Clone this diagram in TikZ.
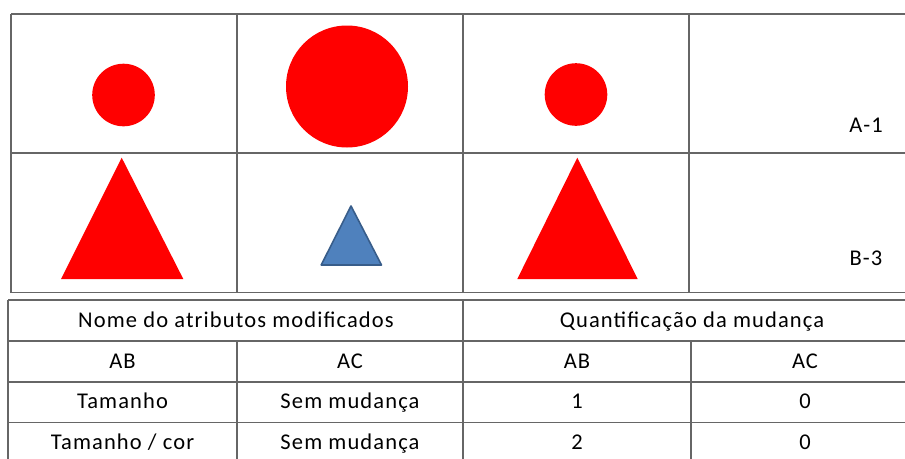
\documentclass[tikz,border=0pt]{standalone}
\usepackage{fontspec}
\setmainfont{Carlito}[LetterSpace=5]
\begin{document}
\begin{tikzpicture}[x=1pt,y=-1pt,
  grid/.style={draw=black!60, line width=1.3pt},
  redshape/.style={fill=red, draw=none},
  blueshape/.style={fill=blueFill, draw=blueEdge, line width=1.6pt, line join=round},
  lbl/.style={font=\fontsize{22.5}{25}\selectfont, anchor=base, inner sep=0pt}
]
\definecolor{blueFill}{HTML}{4F81BD}
\definecolor{blueEdge}{HTML}{385D8A}
\path[use as bounding box, clip] (0,0) rectangle (905,458);
\fill[white] (0,0) rectangle (905,458);
% top table
\draw[grid] (11,14) -- (930,14);
\draw[grid] (11,153) -- (930,153);
\draw[grid] (11,292.5) -- (930,292.5);
\draw[grid] (11,14) -- (11,292.5);
\draw[grid] (237,14) -- (237,292.5);
\draw[grid] (463,14) -- (463,292.5);
\draw[grid] (689,14) -- (689,292.5);
% shapes
\fill[redshape] (123.5,95) circle (31.3);
\fill[redshape] (347,86.5) circle (61);
\fill[redshape] (576,94.5) circle (31.3);
\fill[redshape] (121.7,157.7) -- (183.3,279) -- (61,279) -- cycle;
\fill[redshape] (577.3,157.7) -- (637.7,279) -- (517.3,279) -- cycle;
\draw[blueshape] (351,206) -- (381.5,265) -- (321.2,265) -- cycle;
\node[lbl] (a1) at (866,132.7) {A-1};
\node[lbl] (b3) at (866,265) {B-3};
% bottom table
\draw[grid] (8,300) -- (930,300);
\draw[grid] (8,341) -- (930,341);
\draw[grid] (8,382) -- (930,382);
\draw[grid] (8,422.5) -- (930,422.5);
\draw[grid] (8,463) -- (930,463);
\draw[grid] (8,300) -- (8,470);
\draw[grid] (463,300) -- (463,470);
\draw[grid] (237,341) -- (237,470);
\draw[grid] (691,341) -- (691,470);
\node[lbl] (h1) at (236,327.7) {Nome do atributos modificados};
\node[lbl] (h2) at (692,327.7) {Quantificação da mudança};
\node[lbl] (ab1) at (122.5,368.7) {AB};
\node[lbl] (ac1) at (350,368.7) {AC};
\node[lbl] (ab2) at (577,368.7) {AB};
\node[lbl] (ac2) at (805,368.7) {AC};
\node[lbl] (r1a) at (122.5,408.5) {Tamanho};
\node[lbl] (r1b) at (350,408.5) {Sem mudança};
\node[lbl] (r1c) at (577,408.5) {1};
\node[lbl] (r1d) at (805,408.5) {0};
\node[lbl] (r2a) at (122.5,449.3) {Tamanho / cor};
\node[lbl] (r2b) at (350,449.3) {Sem mudança};
\node[lbl] (r2c) at (577,449.3) {2};
\node[lbl] (r2d) at (805,449.3) {0};
\end{tikzpicture}
\end{document}
